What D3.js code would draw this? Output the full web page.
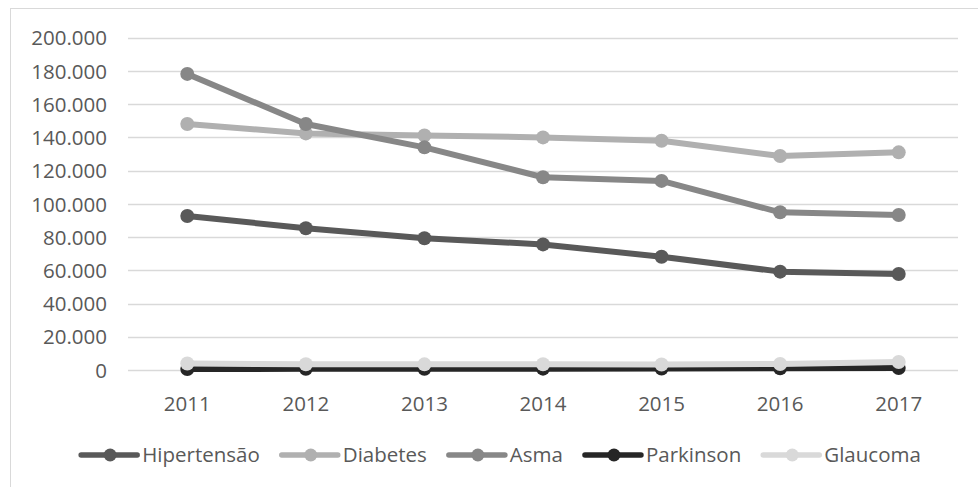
<!DOCTYPE html>
<html><head><meta charset="utf-8">
<script src="https://cdn.jsdelivr.net/npm/d3@7"></script>
<style>
html,body{margin:0;padding:0;background:#fff;}
svg{display:block;}
</style></head>
<body>
<script>
const years = ["2011","2012","2013","2014","2015","2016","2017"];
const seriesNames = ["Hipertensão","Diabetes","Asma","Parkinson","Glaucoma"];
const hipertensao = [92700, 85300, 79300, 75600, 68200, 59200, 57800];
const diabetes    = [148100, 142400, 141200, 140000, 138000, 128800, 131000];
const asma        = [178200, 148100, 134000, 116000, 113800, 94900, 93300];
const parkinson   = [600, 700, 700, 800, 900, 1000, 1200];
const glaucoma    = [3900, 3500, 3400, 3500, 3300, 3600, 4800];
const yTicks = [0, 20000, 40000, 60000, 80000, 100000, 120000, 140000, 160000, 180000, 200000];
const colors = ["#595959", "#b0b0b0", "#878787", "#262626", "#d9d9d9"];
const seriesValues = [hipertensao, diabetes, asma, parkinson, glaucoma];

const W = 978, H = 487;
const svg = d3.select("body").append("svg").attr("width", W).attr("height", H);
const font = "'Open Sans', sans-serif";
const textColor = "#595959";

// chart border
svg.append("rect").attr("x", 10.5).attr("y", 8.5).attr("width", 1000).attr("height", 600)
  .attr("fill", "none").attr("stroke", "#d9d9d9").attr("stroke-width", 1);

const x = d3.scaleBand().domain(years).range([128, 958]).padding(0);
const y = d3.scaleLinear().domain([0, 200000]).range([370, 37.7]);

const fmt = v => v === 0 ? "0" : d3.format(",")(v).replace(/,/g, ".");

// gridlines
svg.append("g").selectAll("line").data(yTicks).join("line")
  .attr("x1", 128).attr("x2", 958)
  .attr("y1", d => Math.round(y(d)) + 0.5).attr("y2", d => Math.round(y(d)) + 0.5)
  .attr("stroke", "#d9d9d9").attr("stroke-width", 1.5);

// y axis labels
const yAxis = d3.axisLeft(y).tickValues(yTicks).tickFormat(fmt).tickSize(0).tickPadding(0);
const gy = svg.append("g").attr("transform", "translate(107,0)").call(yAxis);
gy.select(".domain").remove();
gy.selectAll("text").attr("font-family", font).attr("font-size", 20.5).attr("fill", textColor).attr("dy", "0.35em");

// x axis labels
const xAxis = d3.axisBottom(x).tickSize(0).tickPadding(0);
const gx = svg.append("g").attr("transform", "translate(0,396)").call(xAxis);
gx.select(".domain").remove();
gx.selectAll("text").attr("font-family", font).attr("font-size", 20.5).attr("fill", textColor).attr("dy", "0.71em");

const cx = d => x(d) + x.bandwidth() / 2;
const line = d3.line().x((d, i) => cx(years[i])).y(d => y(d));

seriesValues.forEach((vals, si) => {
  const g = svg.append("g");
  g.append("path").datum(vals).attr("d", line).attr("fill", "none")
    .attr("stroke", colors[si]).attr("stroke-width", 6).attr("stroke-linejoin", "round").attr("stroke-linecap", "round");
  g.selectAll("circle").data(vals).join("circle")
    .attr("cx", (d, i) => cx(years[i])).attr("cy", d => y(d)).attr("r", 7).attr("fill", colors[si]);
});

// legend
const legY = 455;
const lg = svg.append("g");
const items = [];
seriesNames.forEach((n, i) => {
  const g = lg.append("g");
  g.append("line").attr("x1", 0).attr("x2", 56).attr("y1", legY).attr("y2", legY)
    .attr("stroke", colors[i]).attr("stroke-width", 5.5).attr("stroke-linecap", "round");
  g.append("circle").attr("cx", 29).attr("cy", legY).attr("r", 6.5).attr("fill", colors[i]);
  const t = g.append("text").attr("x", 61).attr("y", legY).attr("dy", "0.35em")
    .attr("font-family", font).attr("font-size", 20.5).attr("fill", textColor).text(n);
  items.push({g, w: 61 + t.node().getComputedTextLength()});
});
const gap = 22;
const total = d3.sum(items, d => d.w) + gap * (items.length - 1);
let xs = 501 - total / 2;
items.forEach(it => { it.g.attr("transform", `translate(${xs},0)`); xs += it.w + gap; });
</script>
</body></html>
